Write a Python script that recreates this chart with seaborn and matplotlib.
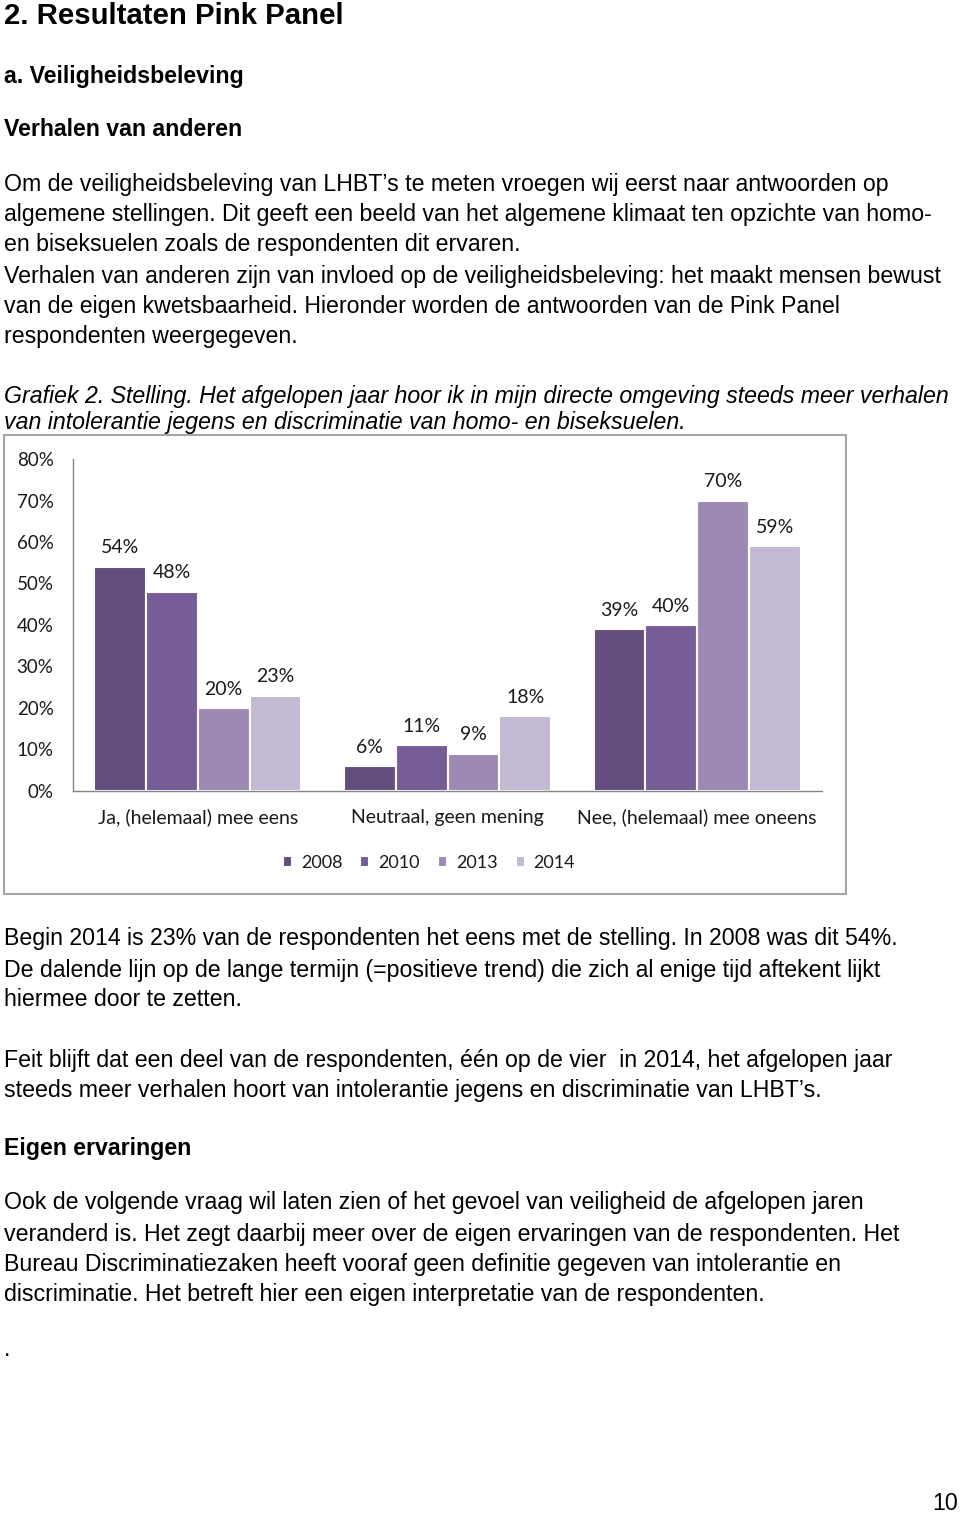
import matplotlib
matplotlib.use("Agg")
import matplotlib.pyplot as plt
from matplotlib.patches import Rectangle
from matplotlib.ticker import PercentFormatter, MultipleLocator
import seaborn as sns
import pandas as pd

# ---- data ----
categories = ["Ja, (helemaal) mee eens", "Neutraal, geen mening", "Nee, (helemaal) mee oneens"]
years = ["2008", "2010", "2013", "2014"]
v2008 = [54, 6, 39]
v2010 = [48, 11, 40]
v2013 = [20, 9, 70]
v2014 = [23, 18, 59]
colors = ["#634E7F", "#775D98", "#9C89B4", "#C3B9D3"]

series = {"2008": v2008, "2010": v2010, "2013": v2013, "2014": v2014}
rows = []
for y in years:
    for c, v in zip(categories, series[y]):
        rows.append({"cat": c, "year": y, "value": v})
df = pd.DataFrame(rows)

sns.set_style("white")
plt.rcParams["font.family"] = ["Liberation Sans", "DejaVu Sans"]
plt.rcParams["text.color"] = "black"

W, H = 960, 1515
fig = plt.figure(figsize=(W / 100, H / 100), dpi=100)


def fx(x):
    return x / W


def fy(y):
    return 1 - y / H


BODY = 16.7
DY = 2
body_lines_top = [
    (182, "Om de veiligheidsbeleving van LHBT\u2019s te meten vroegen wij eerst naar antwoorden op"),
    (213, "algemene stellingen. Dit geeft een beeld van het algemene klimaat ten opzichte van homo-"),
    (243, "en biseksuelen zoals de respondenten dit ervaren."),
    (274, "Verhalen van anderen zijn van invloed op de veiligheidsbeleving: het maakt mensen bewust"),
    (305, "van de eigen kwetsbaarheid. Hieronder worden de antwoorden van de Pink Panel"),
    (335, "respondenten weergegeven."),
    (937, "Begin 2014 is 23% van de respondenten het eens met de stelling. In 2008 was dit 54%."),
    (968, "De dalende lijn op de lange termijn (=positieve trend) die zich al enige tijd aftekent lijkt"),
    (998, "hiermee door te zetten."),
    (1059, "Feit blijft dat een deel van de respondenten, \u00e9\u00e9n op de vier  in 2014, het afgelopen jaar"),
    (1089, "steeds meer verhalen hoort van intolerantie jegens en discriminatie van LHBT\u2019s."),
    (1201, "Ook de volgende vraag wil laten zien of het gevoel van veiligheid de afgelopen jaren"),
    (1232, "veranderd is. Het zegt daarbij meer over de eigen ervaringen van de respondenten. Het"),
    (1262, "Bureau Discriminatiezaken heeft vooraf geen definitie gegeven van intolerantie en"),
    (1293, "discriminatie. Het betreft hier een eigen interpretatie van de respondenten."),
    (1347, "."),
]
for y, t in body_lines_top:
    fig.text(fx(4), fy(y + DY), t, fontsize=BODY, va="center", ha="left", color="black")

fig.text(fx(4), fy(16), "2. Resultaten Pink Panel", fontsize=21.2, fontweight="bold", va="center")
fig.text(fx(4), fy(74 + DY), "a. Veiligheidsbeleving", fontsize=BODY, fontweight="bold", va="center")
fig.text(fx(4), fy(128 + DY), "Verhalen van anderen", fontsize=BODY, fontweight="bold", va="center")
fig.text(fx(4), fy(1147 + DY), "Eigen ervaringen", fontsize=BODY, fontweight="bold", va="center")

fig.text(fx(4), fy(395 + DY), "Grafiek 2. Stelling. Het afgelopen jaar hoor ik in mijn directe omgeving steeds meer verhalen",
         fontsize=BODY, fontstyle="italic", va="center")
fig.text(fx(4), fy(421 + DY), "van intolerantie jegens en discriminatie van homo- en biseksuelen.",
         fontsize=BODY, fontstyle="italic", va="center")

fig.text(fx(958), fy(1502 + DY), "10", fontsize=BODY, va="center", ha="right")

# chart frame
fig.patches.append(Rectangle((fx(4), fy(894)), fx(842), 459 / H, transform=fig.transFigure,
                             facecolor="none", edgecolor="#A6A6A6", linewidth=1.5, zorder=0))

# ---- chart ----
CF = ["Lato", "DejaVu Sans"]
CS = 14
TC = "#1a1a1a"
ax = fig.add_axes([fx(73), fy(791), 749 / W, 332 / H])
sns.barplot(data=df, x="cat", y="value", hue="year", hue_order=years, order=categories,
            palette=colors, saturation=1, width=0.83, edgecolor="white", linewidth=1.5,
            ax=ax, errorbar=None)
ax.set_xlim(-0.5, 2.5)
ax.set_ylim(0, 80)
ax.yaxis.set_major_locator(MultipleLocator(10))
ax.yaxis.set_major_formatter(PercentFormatter(xmax=100, decimals=0))
ax.set_xlabel("")
ax.set_ylabel("")
for s in ["top", "right"]:
    ax.spines[s].set_visible(False)
for s in ["left", "bottom"]:
    ax.spines[s].set_color("#868686")
    ax.spines[s].set_linewidth(1.0)
ax.tick_params(axis="y", length=0, pad=14, labelsize=13.5, labelcolor=TC)
ax.tick_params(axis="x", length=0, pad=23, labelsize=CS, labelcolor=TC)
for lbl in ax.get_yticklabels():
    lbl.set_fontfamily(CF)
for lbl in ax.get_xticklabels():
    lbl.set_fontfamily(CF)
    lbl.set_verticalalignment("baseline")
ax.set_facecolor("none")

for cont in ax.containers:
    ax.bar_label(cont, fmt="%.0f%%", padding=7.5, fontsize=CS, family=CF, color=TC)

sns.move_legend(ax, "center", bbox_to_anchor=(fx(429), fy(863)), bbox_transform=fig.transFigure,
                ncol=4, frameon=False, title=None, handlelength=0.5, handleheight=0.5,
                handletextpad=0.5, columnspacing=1.0, prop={"family": CF, "size": 13})
for t in ax.get_legend().get_texts():
    t.set_color(TC)

fig.savefig("out.png", dpi=100, facecolor="white")
